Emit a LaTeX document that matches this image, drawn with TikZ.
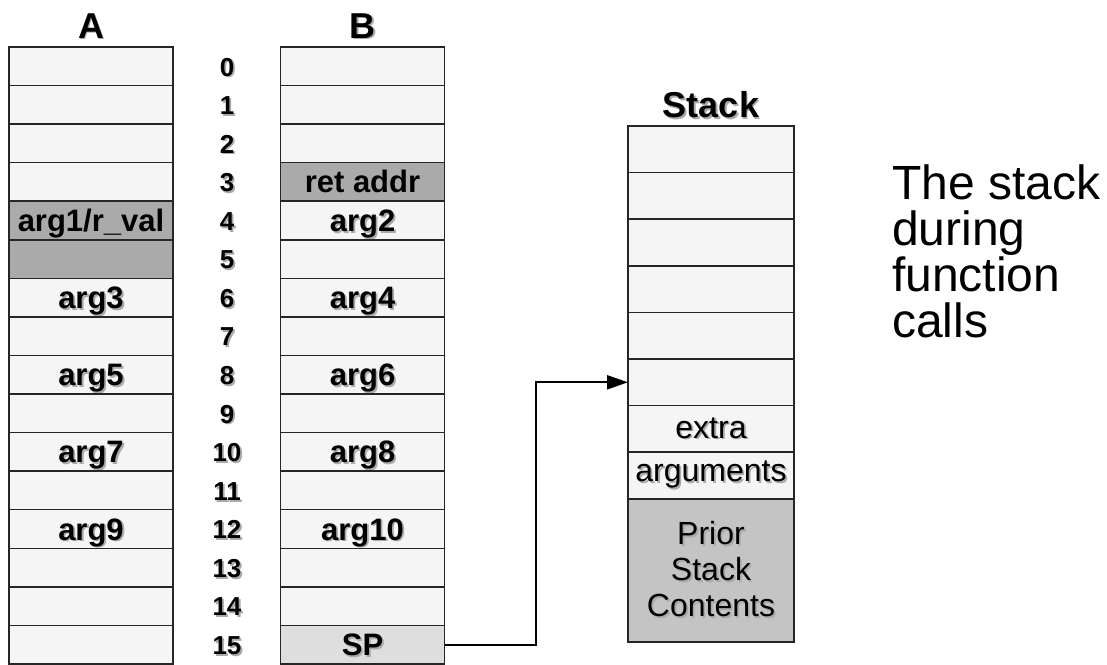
\documentclass[tikz,border=0pt]{standalone}
\usepackage{fontspec}
\setmainfont{Liberation Sans}
\usetikzlibrary{positioning, arrows.meta}

\definecolor{CellFill}{RGB}{245,245,245}
\definecolor{SaveFill}{RGB}{170,170,170}
\definecolor{SpFill}{RGB}{222,222,222}
\definecolor{PriorFill}{RGB}{196,196,196}
\definecolor{ShadowGray}{RGB}{170,170,170}

% text with a small grey drop shadow
\newcommand{\shd}[1]{\rlap{\kern1.8pt\raisebox{-1.8pt}{\textcolor{ShadowGray}{#1}}}#1}

\tikzset{
    cell/.style={draw=black!85, line width=1.5pt, outer sep=0pt, inner sep=0pt,
        minimum width=164pt, minimum height=38.56pt,
        text height=22pt, text depth=0pt,
        font=\fontsize{31}{31}\selectfont\bfseries},
    num/.style={inner sep=0pt, text height=18.5pt, text depth=0pt,
        font=\fontsize{26}{26}\selectfont\bfseries},
    head/.style={inner sep=2pt, font=\fontsize{36}{36}\selectfont\bfseries},
    stackcell/.style={draw=black!85, line width=1.5pt, outer sep=0pt, inner sep=0pt,
        fill=CellFill, minimum width=166pt, minimum height=46.6pt,
        font=\fontsize{32}{36}\selectfont, align=center},
    ptr/.style={line width=2pt, -{Triangle[length=21pt, width=14pt]}},
}

\begin{document}
\begin{tikzpicture}[x=1pt, y=-1pt]
\useasboundingbox (0,0) rectangle (1107,664);

% column A
\foreach \i/\txt/\fc in {0/{}/CellFill, 1/{}/CellFill, 2/{}/CellFill, 3/{}/CellFill,
        4/{arg1/r\_val}/SaveFill, 5/{}/SaveFill, 6/arg3/CellFill, 7/{}/CellFill,
        8/arg5/CellFill, 9/{}/CellFill, 10/arg7/CellFill, 11/{}/CellFill,
        12/arg9/CellFill, 13/{}/CellFill, 14/{}/CellFill, 15/{}/CellFill}
    \node[cell, fill=\fc] (a\i) at (91, 66.28+38.56*\i) {\shd{\txt}};

% column B
\foreach \i/\txt/\fc in {0/{}/CellFill, 1/{}/CellFill, 2/{}/CellFill, 3/{ret addr}/SaveFill,
        4/arg2/CellFill, 5/{}/CellFill, 6/arg4/CellFill, 7/{}/CellFill,
        8/arg6/CellFill, 9/{}/CellFill, 10/arg8/CellFill, 11/{}/CellFill,
        12/arg10/CellFill, 13/{}/CellFill, 14/{}/CellFill, 15/SP/SpFill}
    \node[cell, fill=\fc] (b\i) at (362.5, 66.28+38.56*\i) {\shd{\txt}};

% word numbers
\foreach \i in {0,...,15}
    \node[num] (n\i) at (227, 66.8+38.56*\i) {\shd{\i}};

\node[head, above=5pt of a0] (headA) {\shd{A}};
\node[head, above=5pt of b0] (headB) {\shd{B}};

% the stack
\node[stackcell] (s0) at (711, 149.3) {};
\foreach \i [count=\j from 0] in {1,...,5}
    \node[stackcell, below=0pt of s\j] (s\i) {};
\node[stackcell, below=0pt of s5] (extra) {\shd{extra}};
\node[stackcell, below=0pt of extra] (args) {\shd{arguments}};
\node[stackcell, below=0pt of args, fill=PriorFill, minimum height=143pt] (prior)
    {\shd{Prior}\\\shd{Stack}\\\shd{Contents}};
\node[head, above=4pt of s0] (headS) {\shd{Stack}};

% stack pointer
\draw[ptr] (b15.east) -- ++(91,0) |- (s5.west);

\node[anchor=north west, inner sep=0pt, align=left,
    font=\fontsize{48}{46}\selectfont] (note) at (892,165)
    {The stack\\during\\function\\calls};
\end{tikzpicture}
\end{document}
